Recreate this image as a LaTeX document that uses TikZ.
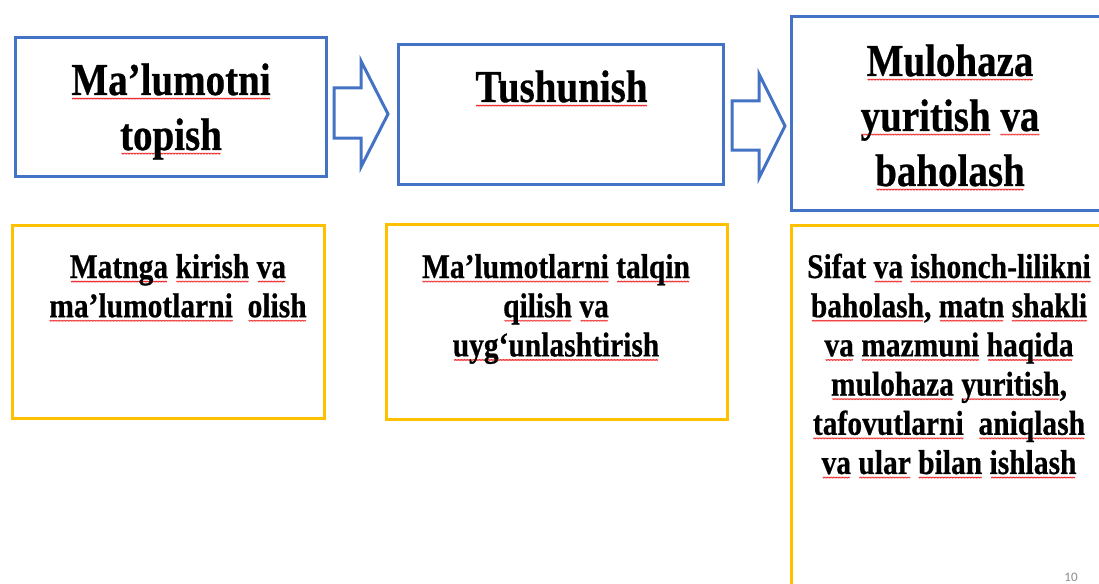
\documentclass[tikz,border=0pt]{standalone}
\usepackage{fontspec}
\setmainfont{Liberation Serif}[Ligatures=NoCommon,BoldFeatures={FakeBold=0.6}]
\newfontfamily\carlito{Carlito}
\definecolor{bblue}{HTML}{4472C4}
\definecolor{byellow}{HTML}{FFC000}
\definecolor{pgray}{HTML}{8C8C8C}
\definecolor{wavered}{HTML}{F03030}
\newsavebox\wavebox
\newsavebox\rwbox
\newcommand\rw[1]{\sbox\rwbox{#1}\rlap{\hbox to \wd\rwbox{\cleaders\copy\wavebox\hfill}}\usebox\rwbox}
\newcommand\vs[1]{\scalebox{1}[1.17]{#1}}
\begin{document}
\sbox\wavebox{\begin{pgfpicture}%
\pgfsetlinewidth{0.55pt}\pgfsetstrokecolor{wavered}\pgfsetroundjoin
\pgfpathmoveto{\pgfpoint{0pt}{-2.5pt}}%
\pgfpathlineto{\pgfpoint{0.75pt}{-3.6pt}}%
\pgfpathlineto{\pgfpoint{1.5pt}{-2.5pt}}%
\pgfpathlineto{\pgfpoint{2.25pt}{-3.6pt}}%
\pgfpathlineto{\pgfpoint{3pt}{-2.5pt}}%
\pgfusepath{stroke}%
\pgfresetboundingbox
\pgfpathrectangle{\pgfpoint{0pt}{0pt}}{\pgfpoint{3pt}{0.1pt}}%
\pgfusepath{use as bounding box}%
\end{pgfpicture}}%
\begin{tikzpicture}[x=1pt,y=-1pt,
  bluebox/.style={draw=bblue,line width=3pt,inner sep=0pt,fill=white},
  yellowbox/.style={draw=byellow,line width=3pt,inner sep=0pt,fill=white},
  blockarrow/.style={draw=bblue,line width=3pt,line join=miter,fill=white},
  toptext/.style={inner sep=0pt,anchor=base,font=\fontsize{39}{47}\selectfont\bfseries},
  lowtext/.style={inner sep=0pt,anchor=base,font=\fontsize{29.5}{33.5}\selectfont\bfseries},
  pagenum/.style={inner sep=0pt,text=pgray,font=\carlito\fontsize{13}{13}\selectfont}]
\useasboundingbox (0,0) rectangle (1099,583);
\fill[white] (0,0) rectangle (1099,583);
\clip (0,0) rectangle (1099,583);

% top blue boxes
\node[bluebox,minimum width=310.5pt,minimum height=138pt] (b1) at (170.75,107) {};
\node[bluebox,minimum width=325pt,minimum height=139pt] (b2) at (560.5,114.5) {};
\node[bluebox,minimum width=318.5pt,minimum height=194pt] (b3) at (950.75,113.5) {};

% block arrows
\draw[blockarrow] (334,88) -- (361,88) -- (361,61) -- (388,114) -- (361,167) -- (361,138) -- (334,138) -- cycle;
\draw[blockarrow] (732,101) -- (759,101) -- (759,74) -- (785,126) -- (759,178) -- (759,150) -- (732,150) -- cycle;

% lower yellow boxes
\node[yellowbox,minimum width=312.5pt,minimum height=193.5pt] (y1) at (168.25,321.75) {};
\node[yellowbox,minimum width=341pt,minimum height=195pt] (y2) at (556.5,321.5) {};
\node[yellowbox,minimum width=319pt,minimum height=475pt] (y3) at (950.5,462.5) {};

% top texts
\node[toptext] (t1) at (171,95) {\vs{\begin{tabular}[t]{@{}c@{}}\rw{Ma’lumotni}\\\rw{topish}\end{tabular}}};
\node[toptext] (t2) at (561.5,102) {\vs{\begin{tabular}[t]{@{}c@{}}\rw{Tushunish}\end{tabular}}};
\node[toptext] (t3) at (950,76) {\vs{\begin{tabular}[t]{@{}c@{}}\rw{Mulohaza}\\\rw{yuritish} \rw{va}\\\rw{baholash}\end{tabular}}};

% lower texts
\node[lowtext] (l1) at (178,278) {\vs{\begin{tabular}[t]{@{}c@{}}\rw{Matnga} \rw{kirish} \rw{va}\\\rw{ma’lumotlarni}\ \ \rw{olish}\end{tabular}}};
\node[lowtext] (l2) at (556,278) {\vs{\begin{tabular}[t]{@{}c@{}}\rw{Ma’lumotlarni} \rw{talqin}\\\rw{qilish} \rw{va}\\\rw{uyg‘unlashtirish}\end{tabular}}};
\node[lowtext] (l3) at (949,278) {\vs{\begin{tabular}[t]{@{}c@{}}Sifat \rw{va} \rw{ishonch-lilikni}\\\rw{baholash}, \rw{matn} \rw{shakli}\\\rw{va} \rw{mazmuni} \rw{haqida}\\\rw{mulohaza} \rw{yuritish},\\\rw{tafovutlarni}\ \ \rw{aniqlash}\\\rw{va} \rw{ular} \rw{bilan} \rw{ishlash}\end{tabular}}};

\node[pagenum] (pn) at (1071,577) {10};
\end{tikzpicture}
\end{document}
